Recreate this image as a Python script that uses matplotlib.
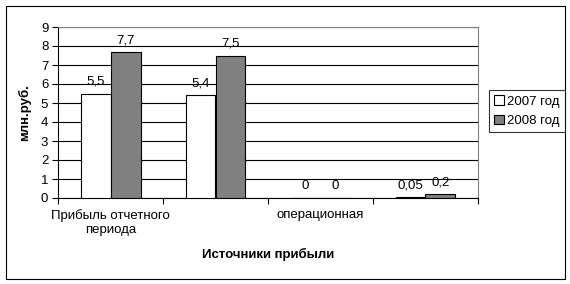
import matplotlib
matplotlib.use("Agg")
import matplotlib.pyplot as plt
from matplotlib.patches import Rectangle
import numpy as np

plt.rcParams['font.family'] = ['Liberation Sans', 'DejaVu Sans']

categories = ["Прибыль отчетного\nпериода", "", "операционная", ""]
series_names = ["2007 год", "2008 год"]
values_2007 = [5.5, 5.4, 0, 0.05]
values_2008 = [7.7, 7.5, 0, 0.2]
y_ticks = [0, 1, 2, 3, 4, 5, 6, 7, 8, 9]

FS = 9.5
W, H = 570, 284
fig = plt.figure(figsize=(W / 100, H / 100), dpi=100)

# outer chart frame
fig.patches.append(Rectangle((5.5 / W, 5.5 / H), 559 / W, 273 / H,
                             transform=fig.transFigure, fill=False,
                             edgecolor="black", linewidth=0.8))

ax = fig.add_axes([58 / W, (H - 198) / H, 420 / W, 171 / H])
x = np.arange(len(categories))
bw = 30 / 105

b1 = ax.bar(x - bw / 2, values_2007, bw, color="white", edgecolor="black",
            linewidth=0.8, label=series_names[0], zorder=3)
b2 = ax.bar(x + bw / 2, values_2008, bw, color="#808080", edgecolor="black",
            linewidth=0.8, label=series_names[1], zorder=3)

def fmt(v):
    s = f"{v:g}"
    return s.replace(".", ",")

for bars, vals in ((b1, values_2007), (b2, values_2008)):
    for rect, v in zip(bars, vals):
        ax.annotate(fmt(v), (rect.get_x() + rect.get_width() / 2, v),
                    xytext=(0, 4), textcoords="offset points",
                    ha="center", va="bottom", fontsize=FS)

ax.set_xlim(-0.5, len(categories) - 0.5)
ax.set_ylim(0, 9)
ax.set_yticks(y_ticks)
ax.set_yticklabels([str(t) for t in y_ticks], fontsize=FS)
ax.set_xticks(x)
ax.set_xticklabels(categories, fontsize=FS)
ax.tick_params(axis="x", which="major", length=0, pad=8)
ax.set_xticks(np.arange(len(categories) + 1) - 0.5, minor=True)
ax.tick_params(axis="x", which="minor", length=4, width=0.8, direction="out")
ax.tick_params(axis="y", length=4, width=0.8, direction="out", pad=3)

ax.yaxis.grid(True, color="black", linewidth=0.8, zorder=1)
ax.set_axisbelow(True)
for s in ("top", "right"):
    ax.spines[s].set_color("#808080")
    ax.spines[s].set_linewidth(0.8)
for s in ("left", "bottom"):
    ax.spines[s].set_linewidth(0.8)

ax.set_ylabel("млн.руб.", fontsize=FS, fontweight="bold", labelpad=7)
ax.set_xlabel("Источники прибыли", fontsize=FS, fontweight="bold", labelpad=9)

leg = fig.legend(loc="upper left", bbox_to_anchor=(489 / W, 1 - 90 / H),
                 fontsize=FS, frameon=True, fancybox=False, edgecolor="black",
                 handlelength=0.7, handleheight=0.7, handletextpad=0.3,
                 borderpad=0.4, labelspacing=0.55, borderaxespad=0)
leg.get_frame().set_linewidth(0.8)

fig.savefig("out.png", dpi=100)
